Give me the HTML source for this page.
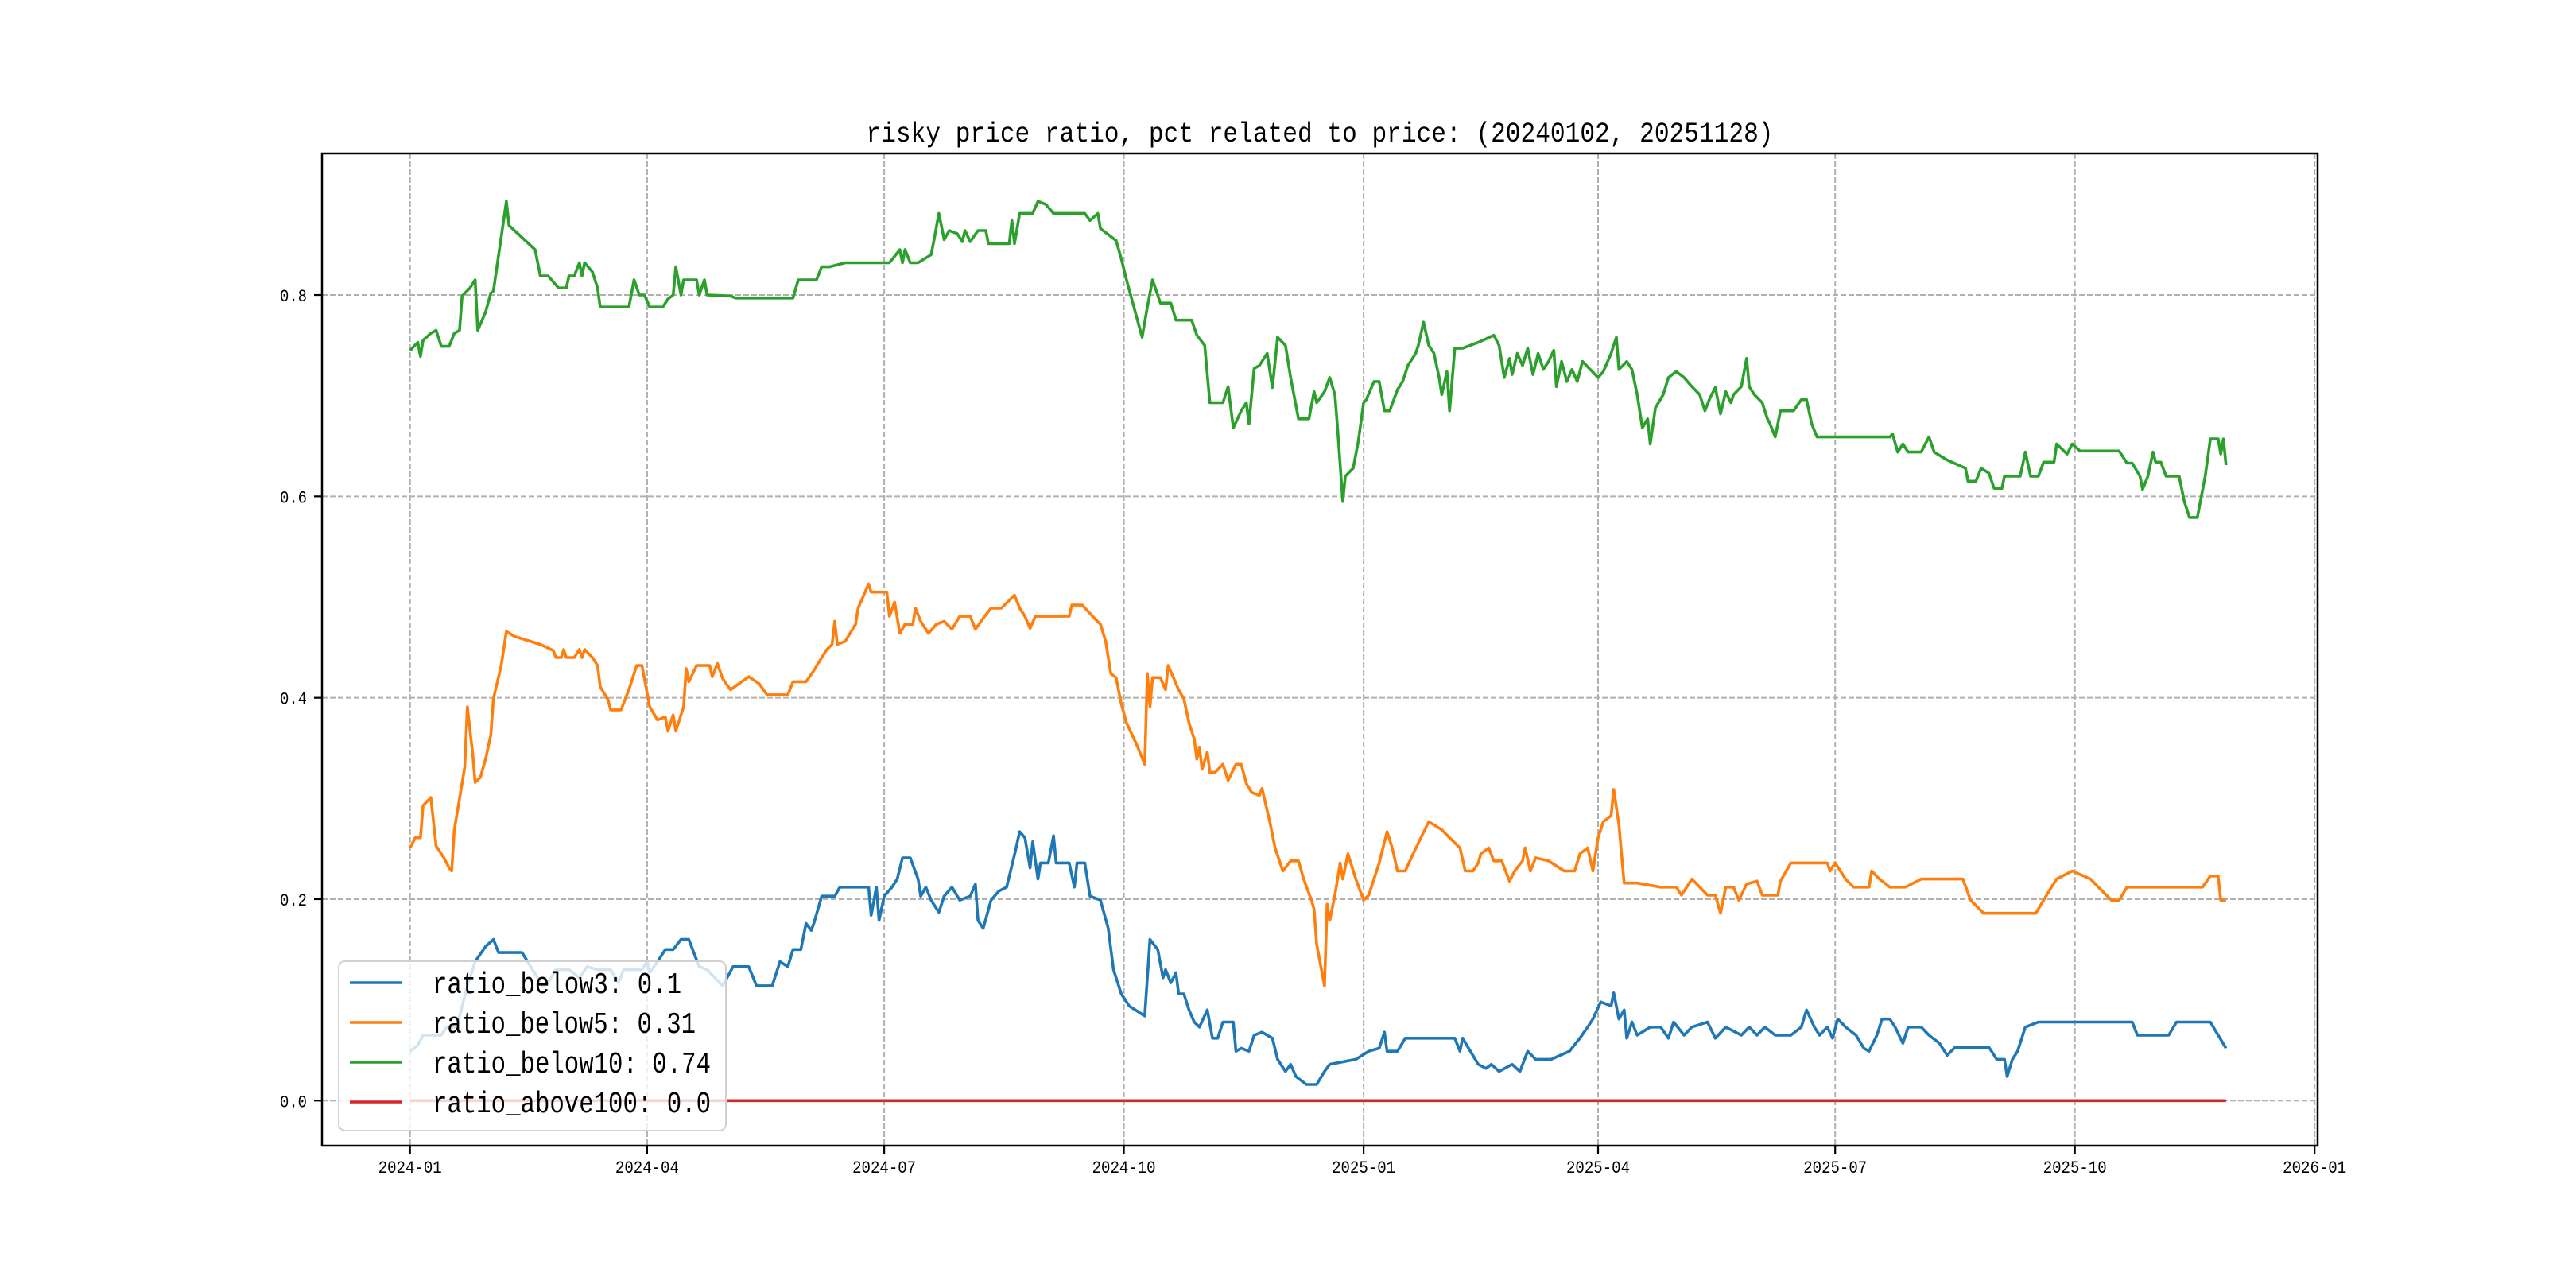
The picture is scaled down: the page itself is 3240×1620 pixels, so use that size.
<!DOCTYPE html>
<html><head><meta charset="utf-8"><style>
html,body{margin:0;padding:0;background:#fff;}
svg{display:block;font-family:"Liberation Mono","WenQuanYi Zen Hei",monospace;}
</style></head><body>
<svg id="chart" width="3240" height="1620" viewBox="0 0 3240 1620" xmlns="http://www.w3.org/2000/svg">
<rect x="0" y="0" width="3240" height="1620" fill="#fff"/>
<text x="1660" y="178" font-size="35" text-anchor="middle" textLength="1141" lengthAdjust="spacingAndGlyphs" fill="#000">risky price ratio, pct related to price: (20240102, 20251128)</text>
<g id="grid"></g>
<g id="series"></g>
<rect x="405" y="193" width="2510" height="1248" fill="none" stroke="#000" stroke-width="2.5"/>
<g id="axes"></g>
<g id="legend"></g>
</svg>
<script>
// days since 2024-01-01
const xTickDays = [0,91,182,274,366,456,547,639,731];
const xTickLabels = ["2024-01","2024-04","2024-07","2024-10","2025-01","2025-04","2025-07","2025-10","2026-01"];
const yTicks = [0,0.2,0.4,0.6,0.8];
const yTickLabels = ["0.0","0.2","0.4","0.6","0.8"];
const seriesNames = ["ratio_below3: 0.1","ratio_below5: 0.31","ratio_below10: 0.74","ratio_above100: 0.0"];
const seriesColors = ["#1f77b4","#ff7f0e","#2ca02c","#d62728"];

const blueDays = [0,3,5,12,14,18,22,25,29,32,34,43,47,51,53,56,61,65,68,72,77,80,82,89,91,92,95,98,101,104,107,111,114,120,124,130,133,139,142,145,147,150,152,154,155,158,163,165,176,177,179,180,182,185,187,189,192,195,196,198,200,203,205,208,211,215,217,218,220,223,226,229,232,234,236,238,239,241,242,245,247,248,253,255,256,259,261,265,268,270,273,276,282,283,284,287,289,290,292,294,295,297,299,301,303,306,308,310,312,316,317,319,322,324,327,331,333,336,338,340,344,348,351,353,363,368,372,374,375,379,382,391,398,401,403,404,407,410,413,415,418,423,426,429,432,438,445,449,452,454,457,461,462,464,466,467,469,471,476,480,483,485,489,492,498,501,505,511,514,517,520,524,530,534,536,539,541,544,546,548,551,555,558,560,563,565,568,570,573,575,580,583,587,590,593,606,609,612,613,615,617,620,625,661,663,675,678,691,694,697];
const blueVals = [0.049,0.055,0.065,0.065,0.073,0.073,0.114,0.138,0.153,0.16,0.147,0.147,0.13,0.114,0.117,0.13,0.13,0.122,0.133,0.13,0.13,0.117,0.13,0.13,0.138,0.127,0.138,0.15,0.15,0.16,0.16,0.133,0.13,0.114,0.133,0.133,0.114,0.114,0.138,0.133,0.15,0.15,0.176,0.169,0.176,0.203,0.203,0.212,0.212,0.184,0.212,0.179,0.203,0.212,0.22,0.241,0.241,0.22,0.203,0.212,0.199,0.187,0.203,0.212,0.199,0.203,0.215,0.179,0.171,0.199,0.208,0.212,0.244,0.267,0.261,0.231,0.257,0.22,0.236,0.236,0.263,0.236,0.236,0.212,0.236,0.236,0.203,0.199,0.171,0.13,0.106,0.094,0.084,0.122,0.16,0.15,0.122,0.13,0.117,0.127,0.106,0.106,0.09,0.078,0.073,0.09,0.062,0.062,0.078,0.078,0.049,0.052,0.049,0.065,0.068,0.062,0.041,0.029,0.036,0.024,0.016,0.016,0.029,0.036,0.041,0.049,0.052,0.068,0.049,0.049,0.062,0.062,0.062,0.062,0.049,0.062,0.049,0.036,0.032,0.036,0.029,0.036,0.029,0.049,0.041,0.041,0.049,0.062,0.073,0.081,0.098,0.094,0.107,0.081,0.09,0.062,0.078,0.065,0.073,0.073,0.062,0.078,0.065,0.073,0.078,0.062,0.073,0.065,0.073,0.065,0.073,0.065,0.065,0.073,0.09,0.073,0.065,0.073,0.062,0.081,0.073,0.065,0.052,0.049,0.065,0.081,0.081,0.073,0.057,0.073,0.073,0.065,0.057,0.045,0.053,0.053,0.041,0.041,0.024,0.041,0.049,0.073,0.078,0.078,0.065,0.065,0.078,0.078,0.065,0.052];

const orangeDays = [0,2,4,5,8,9,10,13,15,16,17,19,21,22,24,25,27,29,31,32,35,37,40,50,55,56,58,59,60,63,65,66,67,70,72,73,76,77,81,84,85,87,89,92,95,98,99,101,102,105,106,107,110,115,116,118,120,123,130,134,137,145,147,152,155,158,160,162,163,164,167,171,172,176,177,183,184,186,188,190,193,194,196,199,202,205,208,211,215,217,220,223,227,232,234,236,238,240,253,254,258,262,265,267,269,271,273,275,279,282,283,284,285,288,290,291,293,295,297,299,301,302,303,304,306,307,309,312,314,317,319,321,323,326,327,330,332,335,338,341,343,346,347,348,351,352,353,355,357,358,360,363,366,368,370,372,375,377,379,382,385,388,391,396,399,403,405,408,410,411,414,416,419,422,424,427,428,430,432,437,443,447,449,452,454,456,458,461,462,464,466,471,480,486,488,490,492,495,498,501,503,505,508,510,513,517,519,525,526,530,544,545,547,549,551,554,560,561,564,568,574,580,596,599,604,624,627,630,632,638,645,648,653,656,659,688,691,694,695,697];
const orangeVals = [0.251,0.261,0.261,0.293,0.301,0.277,0.253,0.241,0.231,0.228,0.269,0.3,0.331,0.391,0.346,0.316,0.321,0.339,0.363,0.399,0.432,0.466,0.461,0.453,0.447,0.44,0.44,0.448,0.44,0.44,0.448,0.44,0.448,0.44,0.432,0.411,0.398,0.388,0.388,0.408,0.416,0.432,0.432,0.391,0.378,0.381,0.367,0.383,0.367,0.391,0.429,0.416,0.432,0.432,0.421,0.434,0.419,0.408,0.421,0.414,0.403,0.403,0.416,0.416,0.427,0.44,0.448,0.453,0.476,0.453,0.456,0.473,0.489,0.513,0.505,0.505,0.481,0.495,0.464,0.473,0.473,0.489,0.476,0.464,0.473,0.476,0.468,0.481,0.481,0.468,0.479,0.489,0.489,0.502,0.489,0.481,0.469,0.481,0.481,0.492,0.492,0.481,0.473,0.456,0.424,0.42,0.394,0.375,0.353,0.334,0.424,0.391,0.42,0.42,0.408,0.432,0.42,0.408,0.399,0.375,0.359,0.339,0.351,0.329,0.346,0.326,0.326,0.334,0.318,0.334,0.334,0.315,0.306,0.303,0.31,0.277,0.251,0.228,0.238,0.238,0.22,0.199,0.19,0.155,0.114,0.195,0.179,0.204,0.236,0.22,0.245,0.22,0.199,0.204,0.22,0.236,0.267,0.251,0.228,0.228,0.245,0.261,0.277,0.269,0.261,0.251,0.228,0.228,0.236,0.245,0.251,0.238,0.238,0.218,0.228,0.238,0.251,0.228,0.241,0.238,0.228,0.228,0.245,0.251,0.228,0.261,0.277,0.283,0.309,0.274,0.216,0.216,0.212,0.212,0.204,0.212,0.22,0.212,0.204,0.204,0.186,0.212,0.212,0.199,0.215,0.218,0.204,0.204,0.218,0.236,0.236,0.228,0.236,0.228,0.22,0.212,0.212,0.228,0.22,0.212,0.212,0.22,0.22,0.199,0.186,0.186,0.199,0.212,0.22,0.228,0.22,0.212,0.199,0.199,0.212,0.212,0.223,0.223,0.199,0.199];

const greenDays = [0,3,4,5,8,10,12,15,17,19,20,23,25,26,29,31,32,37,38,48,50,53,57,60,61,63,65,66,67,70,72,73,84,86,88,90,92,97,99,101,102,104,105,110,111,113,114,123,125,147,149,156,158,161,167,184,188,189,190,192,195,200,201,203,205,207,210,212,213,215,218,221,222,230,231,232,234,239,241,244,247,259,261,264,265,271,273,275,281,283,285,288,292,294,300,302,305,307,312,314,316,319,321,322,324,326,329,331,333,336,338,341,345,347,348,351,353,355,356,358,359,362,364,366,367,370,372,374,376,379,381,383,386,387,389,391,393,395,396,398,399,401,404,410,416,418,420,422,423,425,427,429,431,433,435,437,439,440,442,444,446,448,450,453,456,458,461,463,464,467,469,471,473,475,476,478,481,483,486,489,492,495,497,499,501,503,505,507,508,511,513,514,516,519,521,522,524,526,531,534,536,538,540,568,569,571,573,575,580,583,585,590,597,598,601,603,606,608,611,612,618,620,622,625,627,631,632,636,638,641,656,659,661,664,665,667,669,670,672,674,679,681,683,686,689,691,694,695,696,697];
const greenVals = [0.745,0.753,0.739,0.755,0.762,0.765,0.749,0.749,0.762,0.765,0.799,0.807,0.815,0.765,0.783,0.802,0.804,0.893,0.869,0.845,0.819,0.819,0.807,0.807,0.819,0.819,0.832,0.819,0.832,0.823,0.807,0.788,0.788,0.815,0.8,0.8,0.788,0.788,0.796,0.8,0.828,0.8,0.815,0.815,0.8,0.815,0.8,0.799,0.797,0.797,0.815,0.815,0.828,0.828,0.832,0.832,0.845,0.832,0.845,0.832,0.832,0.84,0.853,0.881,0.855,0.864,0.861,0.853,0.864,0.853,0.864,0.864,0.851,0.851,0.874,0.851,0.881,0.881,0.893,0.89,0.881,0.881,0.874,0.881,0.866,0.854,0.836,0.815,0.758,0.788,0.815,0.792,0.792,0.775,0.775,0.76,0.75,0.693,0.693,0.709,0.668,0.685,0.693,0.672,0.727,0.73,0.742,0.708,0.758,0.75,0.718,0.677,0.677,0.704,0.693,0.704,0.718,0.701,0.668,0.595,0.62,0.628,0.655,0.693,0.696,0.714,0.714,0.685,0.685,0.706,0.714,0.73,0.742,0.75,0.773,0.75,0.742,0.718,0.701,0.724,0.685,0.747,0.747,0.753,0.76,0.75,0.718,0.737,0.721,0.742,0.73,0.747,0.721,0.742,0.726,0.734,0.745,0.709,0.734,0.714,0.726,0.714,0.734,0.726,0.718,0.724,0.742,0.758,0.726,0.734,0.726,0.701,0.668,0.677,0.652,0.688,0.701,0.718,0.724,0.718,0.709,0.701,0.685,0.698,0.708,0.682,0.704,0.693,0.701,0.709,0.737,0.709,0.701,0.693,0.677,0.672,0.659,0.685,0.685,0.696,0.696,0.672,0.659,0.659,0.662,0.644,0.652,0.644,0.644,0.659,0.644,0.636,0.628,0.615,0.615,0.628,0.623,0.608,0.608,0.62,0.62,0.644,0.62,0.62,0.634,0.634,0.652,0.642,0.652,0.645,0.645,0.633,0.633,0.62,0.607,0.62,0.644,0.634,0.634,0.62,0.62,0.595,0.579,0.579,0.62,0.657,0.657,0.642,0.657,0.631];

const redDays = [0,697];
const redVals = [0,0];

const X0 = 515.7, PX_PER_DAY = 3.277, Y0 = 1384.3, PX_PER_UNIT = 1266.6;
function xScale(d){ return X0 + d * PX_PER_DAY; }
function yScale(v){ return Y0 - v * PX_PER_UNIT; }
const NS = "http://www.w3.org/2000/svg";
function mk(tag, attrs, parent){ const e=document.createElementNS(NS,tag); for(const k in attrs) e.setAttribute(k,attrs[k]); parent.appendChild(e); return e; }

const grid = document.getElementById('grid');
const axes = document.getElementById('axes');
xTickDays.forEach((d,i)=>{
  const x = xScale(d);
  const g = mk('line',{x1:x,x2:x,y1:193,y2:1441,stroke:'#b0b0b0','stroke-width':2,'stroke-dasharray':'7,3'},grid);
  
  
  const t = mk('line',{x1:x,x2:x,y1:1441,y2:1451,stroke:'#000','stroke-width':2.2},axes);
  
  
  const lb = mk('text',{x:x,y:1475,'font-size':22,'text-anchor':'middle',fill:'#000',textLength:80,lengthAdjust:'spacingAndGlyphs'},axes);
  lb.textContent = xTickLabels[i];
  
  
});
yTicks.forEach((v,i)=>{
  const y = yScale(v);
  const g = mk('line',{x1:405,x2:2915,y1:y,y2:y,stroke:'#b0b0b0','stroke-width':2,'stroke-dasharray':'7,3'},grid);
  
  
  const t = mk('line',{x1:395,x2:405,y1:y,y2:y,stroke:'#000','stroke-width':2.2},axes);
  
  
  const lb = mk('text',{x:386,y:y+8,'font-size':22,'text-anchor':'end',fill:'#000',textLength:34,lengthAdjust:'spacingAndGlyphs'},axes);
  lb.textContent = yTickLabels[i];
  
  
});

const series = document.getElementById('series');
const allDays = [blueDays, orangeDays, greenDays, redDays];
const allVals = [blueVals, orangeVals, greenVals, redVals];
const lineNames = ['line-ratio-below3','line-ratio-below5','line-ratio-below10','line-ratio-above100'];
for(let s=0;s<4;s++){
  const ds = allDays[s], vs = allVals[s];
  let d = '';
  for(let i=0;i<ds.length;i++){ d += (i?'L':'M') + xScale(ds[i]).toFixed(1) + ',' + yScale(vs[i]).toFixed(1); }
  const p = mk('path',{d:d,fill:'none',stroke:seriesColors[s],'stroke-width':3.6,'stroke-linejoin':'round'},series);
  
  
}

const legend = document.getElementById('legend');
const box = mk('rect',{x:426,y:1209,width:487,height:213,rx:8,fill:'#fff','fill-opacity':0.8,stroke:'#d0d0d0','stroke-width':2},legend);


const rowY = [1236,1286,1336,1386];
for(let s=0;s<4;s++){
  const ln = mk('line',{x1:440,x2:506,y1:rowY[s],y2:rowY[s],stroke:seriesColors[s],'stroke-width':3.6},legend);
  
  
  const tx = mk('text',{x:544,y:rowY[s]+13,'font-size':38,fill:'#000',textLength:(seriesNames[s].length*18.4).toFixed(0),lengthAdjust:'spacingAndGlyphs'},legend);
  tx.textContent = seriesNames[s];
  
  
}
</script>
</body></html>
